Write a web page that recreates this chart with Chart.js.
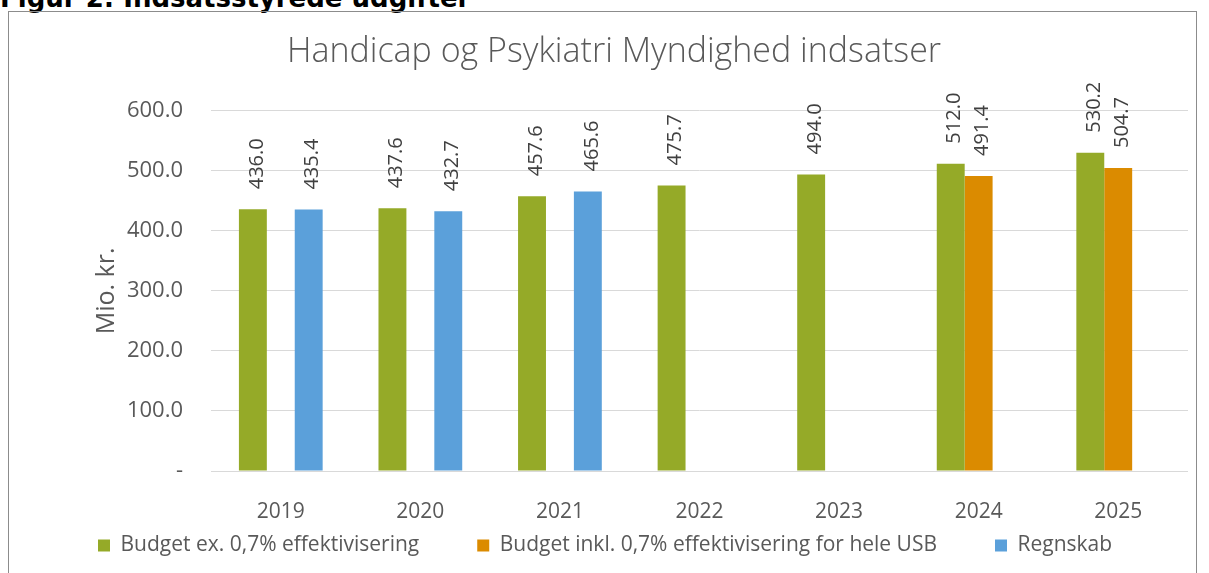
<!DOCTYPE html>
<html>
<head>
<meta charset="utf-8">
<script src="https://cdn.jsdelivr.net/npm/chart.js@4.4.0/dist/chart.umd.min.js"></script>
<style>
  body { margin: 0; background: #fff; overflow: hidden; }
  #heading {
    position: absolute; left: 0; top: -15px; line-height: 26px;
    font-family: "DejaVu Sans", Verdana, sans-serif; font-weight: bold; font-size: 26px;
    color: #000; white-space: nowrap;
  }
  #box {
    position: absolute; left: 8px; top: 11px; width: 1187px; height: 600px;
    border: 1px solid #8c8c8c;
  }
  #wrap { position: absolute; left: 0; top: 0; width: 1179px; height: 561px; }
</style>
</head>
<body>
<div id="heading">Figur 2: Indsatsstyrede udgifter</div>
<div id="box">
  <div id="wrap"><canvas id="chart"></canvas></div>
</div>
<script>
// values
const years = ['2019', '2020', '2021', '2022', '2023', '2024', '2025'];
const budgetEx = [436.0, 437.6, 457.6, 475.7, 494.0, 512.0, 530.2];
const budgetInkl = [null, null, null, null, null, 491.4, 504.7];
const regnskab = [435.4, 432.7, 465.6, null, null, null, null];
const yTicks = [0, 100, 200, 300, 400, 500, 600];

const fontFamily = '"Open Sans", "DejaVu Sans", sans-serif';

// draws the rotated value labels above each bar
const valueLabels = {
    id: 'valueLabels',
    afterDatasetsDraw(chart) {
        const ctx = chart.ctx;
        ctx.save();
        ctx.font = '20px ' + fontFamily;
        ctx.fillStyle = '#404040';
        ctx.textAlign = 'left';
        ctx.textBaseline = 'middle';
        chart.data.datasets.forEach((ds, i) => {
            const meta = chart.getDatasetMeta(i);
            meta.data.forEach((bar, j) => {
                const v = ds.data[j];
                if (v === null) return;
                ctx.save();
                ctx.translate(bar.x + 4, bar.y - 20);
                ctx.rotate(-Math.PI / 2);
                ctx.fillText(v.toFixed(1), 0, 0);
                ctx.restore();
            });
        });
        ctx.restore();
    }
};

const ctx = document.getElementById('chart').getContext('2d');
new Chart(ctx, {
    type: 'bar',
    data: {
        labels: years,
        datasets: [
            { label: 'Budget ex. 0,7% effektivisering', data: budgetEx, backgroundColor: '#95aa28' },
            { label: 'Budget inkl. 0,7% effektivisering for hele USB', data: budgetInkl, backgroundColor: '#db8b00' },
            { label: 'Regnskab', data: regnskab, backgroundColor: '#5ba0da' }
        ]
    },
    options: {
        responsive: true,
        maintainAspectRatio: false,
        animation: false,
        layout: { padding: { left: 31, right: 0, top: 0, bottom: 7 } },
        datasets: { bar: { categoryPercentage: 0.6, barPercentage: 1.0 } },
        plugins: {
            title: {
                display: true,
                text: 'Handicap og Psykiatri Myndighed indsatser',
                color: '#595959',
                font: { family: fontFamily, size: 34, weight: '300' },
                padding: { top: 20, bottom: 38 }
            },
            legend: {
                position: 'bottom',
                align: 'start',
                labels: {
                    color: '#595959',
                    font: { family: fontFamily, size: 21 },
                    boxWidth: 12, boxHeight: 12,
                    padding: 58
                }
            },
            tooltip: { enabled: false }
        },
        scales: {
            x: {
                afterFit(scale) {
                    // legend spacing eats the room below, so let the year labels overhang the axis box
                    scale.height = 6;
                    scale._computeLabelArea = () => null;
                },
                grid: { display: false, drawTicks: false },
                border: { color: '#d9d9d9', width: 1 },
                ticks: { color: '#595959', font: { family: fontFamily, size: 21 }, padding: 28 }
            },
            y: {
                min: 0, max: 600,
                afterFit(scale) { scale.width = 171; },
                afterBuildTicks(scale) { scale.ticks = yTicks.map(v => ({ value: v })); },
                grid: { color: '#d9d9d9', drawTicks: false },
                border: { display: false },
                ticks: {
                    color: '#595959',
                    font: { family: fontFamily, size: 22 },
                    padding: 28,
                    callback: v => v === 0 ? '-' : v.toFixed(1)
                },
                title: {
                    display: true, text: 'Mio. kr.', color: '#595959',
                    font: { family: fontFamily, size: 25 }, padding: { top: 52, bottom: 0 }
                }
            }
        }
    },
    plugins: [valueLabels]
});
</script>
</body>
</html>
